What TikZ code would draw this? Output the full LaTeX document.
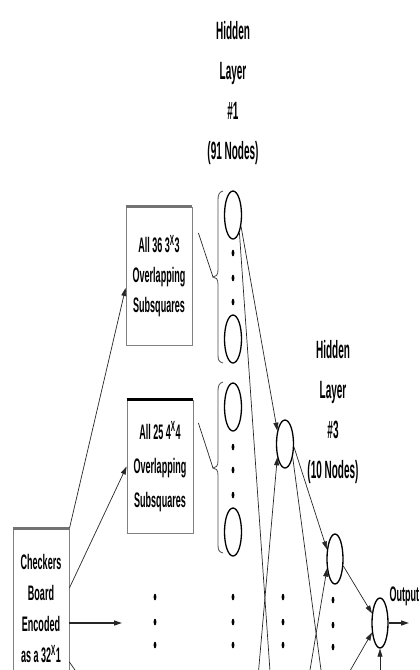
\documentclass[tikz,border=0pt]{standalone}
\usepackage{fontspec}
\newfontfamily\condA[FakeStretch=0.40]{Liberation Sans}
\newfontfamily\condB[FakeStretch=0.43]{Liberation Sans}
\usetikzlibrary{shapes.geometric,arrows.meta,calc}
\begin{document}
\begin{tikzpicture}[x=1pt,y=-1pt,
  neuron/.style={ellipse, draw=black, line width=1.3pt, minimum width=17pt, minimum height=48pt, inner sep=0pt},
  dotmark/.style={ellipse, fill=black, minimum width=2.8pt, minimum height=6.5pt, inner sep=0pt},
  box/.style={draw=black!50, line width=0.8pt, inner sep=0pt, minimum width=66pt},
  conn/.style={draw=black!85, line width=0.7pt},
  arr/.style={conn, -{Triangle[length=8pt,width=5pt]}},
  bracestyle/.style={draw=black!70, line width=0.8pt},
  title/.style={align=center, font=\condA\bfseries\fontsize{25}{40}\selectfont},
  boxtext/.style={align=center, font=\condB\bfseries\fontsize{21}{31}\selectfont}
]
\useasboundingbox (0,0) rectangle (420,670);
\clip (0,0) rectangle (420,670);

% titles
\node[title] (t1) at (233,93) {Hidden\\Layer\\\#1\\(91 Nodes)};
\node[title] (t3) at (333,412) {Hidden\\Layer\\\#3\\(10 Nodes)};

% boxes
\node[box, boxtext, minimum height=138pt, font=\condB\bfseries\fontsize{21}{30}\selectfont] (box1) at (159,276) {All 36 3\textsuperscript{X}3\\Overlapping\\Subsquares};
\node[box, boxtext, minimum height=133pt, font=\condB\bfseries\fontsize{21}{34}\selectfont] (box2) at (160,466.5) {All 25 4\textsuperscript{X}4\\Overlapping\\Subsquares};
\node[box, minimum width=56pt, minimum height=188pt] (checkers) at (41,623) {};
\node[boxtext] (cktext) at (41,609) {Checkers\\Board\\Encoded\\as a 32\textsuperscript{X}1};
\draw[line width=2.5pt, black!55] (box1.north west) -- (box1.north east);
\draw[line width=2.5pt, black] (box2.north west) -- (box2.north east);
\draw[line width=2.5pt, black!55] (checkers.north west) -- (checkers.north east);

% neurons
\node[neuron] (h1a) at (233,215) {};
\node[neuron] (h1b) at (233,339) {};
\node[neuron] (h1c) at (233,407) {};
\node[neuron] (h1d) at (233,532) {};
\node[neuron] (h2a) at (285,444) {};
\node[neuron, minimum width=16pt, minimum height=50pt] (h3a) at (335,559) {};
\node[neuron, minimum width=16pt, minimum height=50pt] (out) at (380,623) {};

% dots
\foreach \x/\y/\n in {233/253/a1,233/278/a2,233/302/a3,233/447/b1,233/470/b2,233/495/b3,
  155/597/c1,155/622/c2,155/645/c3,233/597/d1,233/622/d2,233/645/d3,
  283/597/e1,283/622/e2,283/645/e3,333/600/f1,333/625/f2,333/647/f3}
  \node[dotmark] (dot\n) at (\x,\y) {};

% braces
\draw[bracestyle] (223,191) .. controls (219,192) and (218,195) .. (218,200) -- (218,270)
  .. controls (218,275) and (216,277) .. (213,277) .. controls (216,277) and (218,279) .. (218,284)
  -- (218,355) .. controls (218,360) and (219,362) .. (223,363);
\draw[bracestyle] (223,382) .. controls (219,383) and (218,386) .. (218,391) -- (218,461)
  .. controls (218,466) and (216,468) .. (213,468) .. controls (216,468) and (218,470) .. (218,475)
  -- (218,545) .. controls (218,550) and (219,552) .. (223,553);
\coordinate (br1) at (213,277);
\coordinate (br2) at (213,468);
\draw[conn] ([xshift=6pt,yshift=43pt]box1.east) -- (br1);
\draw[conn] ([xshift=5pt,yshift=43.5pt]box2.east) -- (br2);

% input connectors
\coordinate (inarrow) at (122,623);
\coordinate (ckout) at (82,680);
\draw[arr] (checkers.north east) -- ([yshift=-12pt]box1.west);
\draw[arr] ([yshift=35pt]checkers.east) -- (box2.west);
\draw[arr, line width=1.4pt] (checkers.east) -- (inarrow);
\draw[conn] ([yshift=-39pt]checkers.east) -- (ckout);

% hidden connectors
\coordinate (a2end) at (272,700);
\coordinate (bstart) at (256,700);
\coordinate (c2end) at (325,700);
\coordinate (dstart) at (305,700);
\coordinate (estart) at (343,683);
\coordinate (fstart) at (380,700);
\coordinate (outend) at (409,623);
\draw[conn] (h1a.-70) -- (a2end);
\draw[arr] (h1a.-55) -- (h2a.120);
\draw[arr] (bstart) -- (h2a.240);
\draw[arr] (h2a.-20) -- (h3a.130);
\draw[conn] (h2a.-60) -- (c2end);
\draw[arr] (dstart) -- (h3a.230);
\draw[arr] (h3a.-40) -- (out.130);
\draw[arr] (estart) -- (out.230);
\draw[arr] (fstart) -- (out.south);
\draw[arr, line width=1.4pt] (out.east) -- (outend);
\node[boxtext, anchor=west] (outlabel) at (386,596) {Output};
\end{tikzpicture}
\end{document}
